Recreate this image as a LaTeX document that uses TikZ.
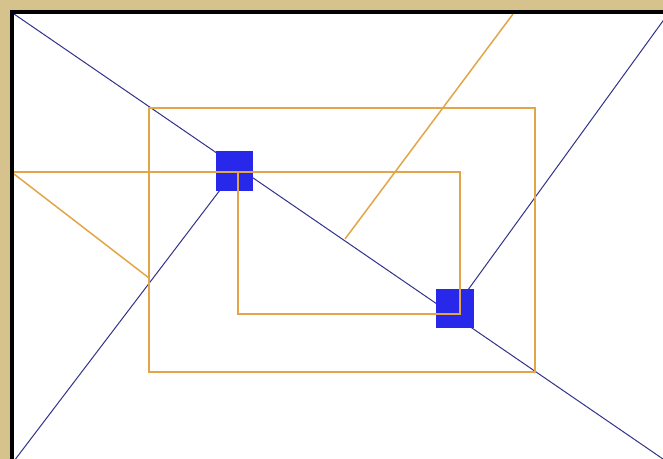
\documentclass[tikz,border=0pt]{standalone}
\definecolor{fundo}{RGB}{214,194,140}
\definecolor{linhaazul}{RGB}{50,50,140}
\definecolor{quadazul}{RGB}{40,40,235}
\definecolor{laranja}{RGB}{226,166,72}
\begin{document}
\begin{tikzpicture}[
    x=0.02cm, y=-0.02cm,
    % linhas azuis finas
    guia/.style={draw=linhaazul, line width=0.02cm},
    % linhas laranja
    caixa/.style={draw=laranja, line width=0.03cm},
    % quadrados azuis
    ponto/.style={fill=quadazul, minimum width=0.76cm, minimum height=0.8cm, inner sep=0pt}
]

    % ==========================================
    % 1. FUNDO E MOLDURA
    % ==========================================
    \fill[fundo] (0,0) rectangle (663,459);
    \fill[white] (14,14) rectangle (663,459);
    \useasboundingbox (0,0) rectangle (663,459);

    % cantos e pontos de controle
    \coordinate (topoesq) at (14,14);
    \coordinate (baixodir) at (663,459);
    \coordinate (baixoesq) at (14,461);
    \coordinate (topodir) at (668,14);
    \coordinate (pA) at (234.5,171);
    \coordinate (pB) at (454.5,308.5);

    \begin{scope}
        \clip (14,14) rectangle (663,459);

        % ==========================================
        % 2. LINHAS AZUIS
        % ==========================================
        \draw[guia] (topoesq) -- (baixodir);
        \draw[guia] (baixoesq) -- (pA);
        \draw[guia] (pB) -- (topodir);

        \node[ponto] (qA) at (pA) {};
        \node[ponto] (qB) at (pB) {};

        % ==========================================
        % 3. LINHAS LARANJA
        % ==========================================
        \coordinate (ext1) at (149,108);
        \coordinate (ext2) at (535,372);
        \coordinate (int1) at (238,172);
        \coordinate (int2) at (460,314);
        \draw[caixa] (ext1) rectangle (ext2);
        \draw[caixa] (int1) rectangle (int2);
        \draw[caixa] (14,172) -- (int1);
        \draw[caixa] (14,174) -- (149,278);
        \draw[caixa] (345,239) -- (513,14);
    \end{scope}

    % moldura preta
    \draw[black, line width=0.07cm] (12,459) -- (12,12) -- (663,12);

\end{tikzpicture}
\end{document}
